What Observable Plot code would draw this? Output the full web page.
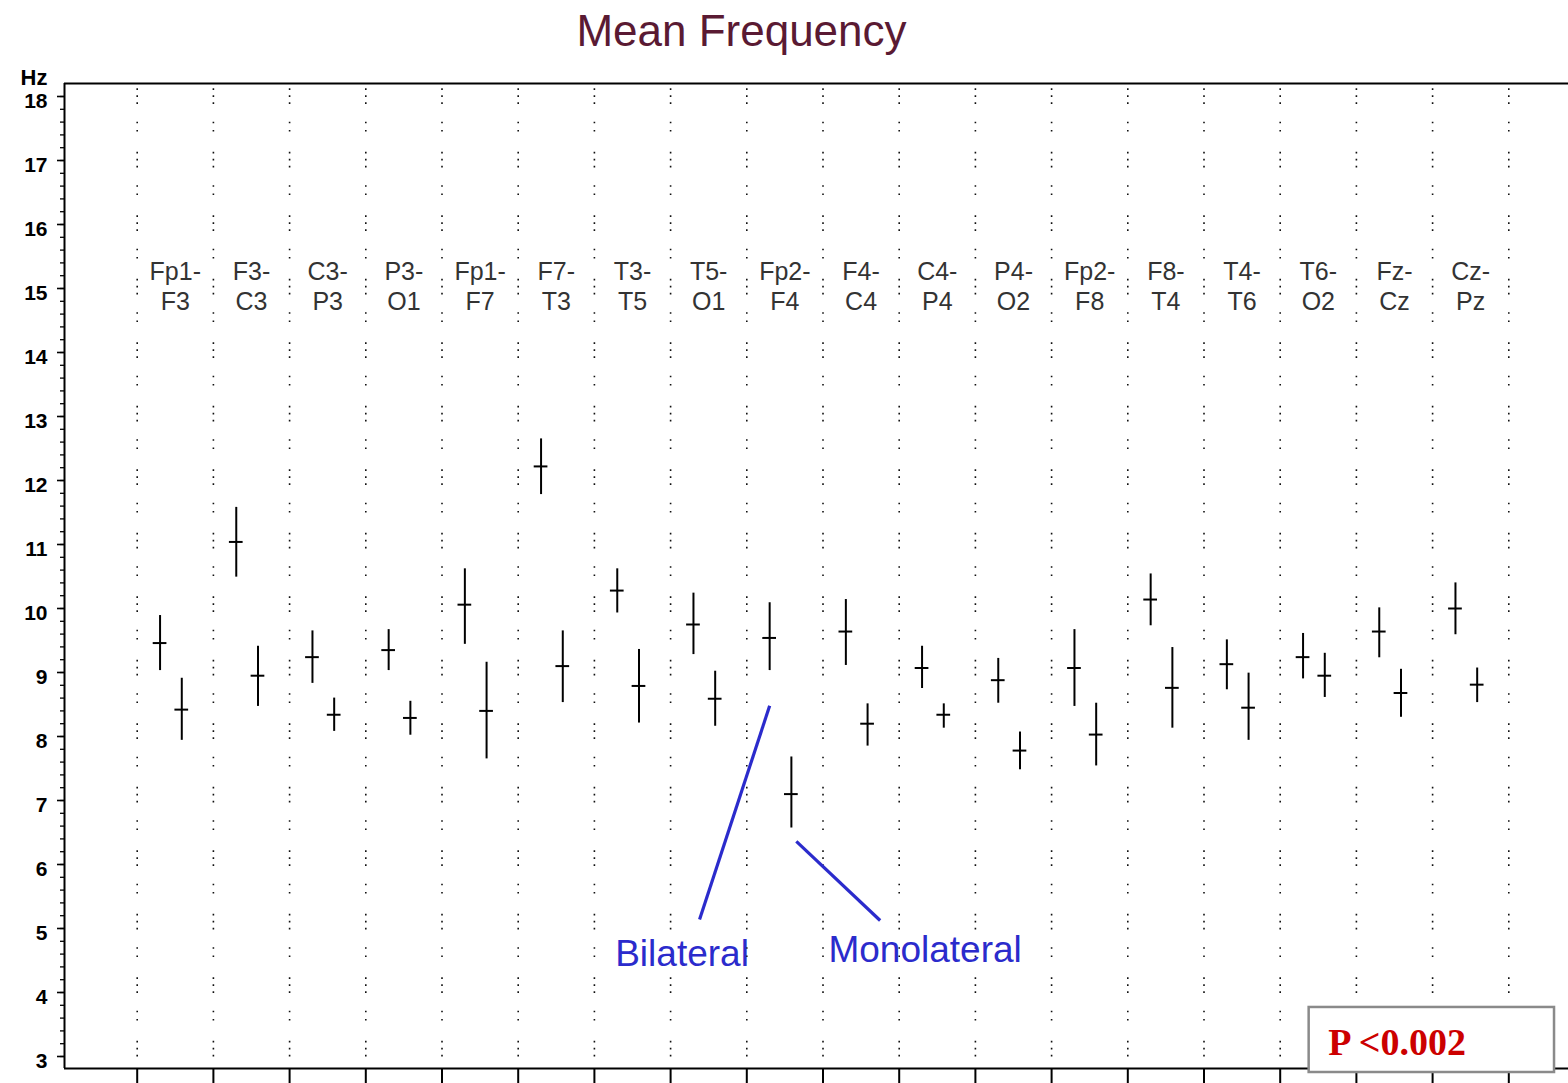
<!DOCTYPE html>
<html><head><meta charset="utf-8">
<script src="https://cdn.jsdelivr.net/npm/d3@7"></script>
<script src="https://cdn.jsdelivr.net/npm/@observablehq/plot@0.6"></script>
<style>body{margin:0;background:#fff} #chart svg{display:block}</style>
</head><body><div id="chart"></div>
<script>
const channels = ["Fp1-F3","F3-C3","C3-P3","P3-O1","Fp1-F7","F7-T3","T3-T5","T5-O1","Fp2-F4","F4-C4","C4-P4","P4-O2","Fp2-F8","F8-T4","T4-T6","T6-O2","Fz-Cz","Cz-Pz"];
const bilateralMean = [9.46, 11.04, 9.24, 9.35, 10.06, 12.22, 10.28, 9.75, 9.54, 9.64, 9.07, 8.88, 9.07, 10.14, 9.13, 9.24, 9.64, 10.00];
const bilateralLow  = [9.03, 10.49, 8.83, 9.03, 9.44, 11.78, 9.93, 9.28, 9.03, 9.11, 8.75, 8.52, 8.47, 9.73, 8.73, 8.90, 9.23, 9.59];
const bilateralHigh = [9.89, 11.58, 9.65, 9.67, 10.62, 12.65, 10.62, 10.24, 10.09, 10.14, 9.41, 9.22, 9.67, 10.54, 9.51, 9.61, 10.01, 10.40];
const monoMean = [8.42, 8.95, 8.34, 8.29, 8.40, 9.10, 8.79, 8.59, 7.10, 8.20, 8.34, 7.78, 8.03, 8.76, 8.45, 8.95, 8.68, 8.81];
const monoLow  = [7.94, 8.47, 8.08, 8.02, 7.65, 8.53, 8.21, 8.16, 6.57, 7.85, 8.13, 7.48, 7.54, 8.13, 7.94, 8.61, 8.30, 8.53];
const monoHigh = [8.91, 9.41, 8.60, 8.55, 9.16, 9.65, 9.36, 9.02, 7.68, 8.51, 8.51, 8.07, 8.52, 9.39, 8.99, 9.30, 9.05, 9.07];
const yTickValues = d3.range(3, 19);
const yMinorValues = d3.range(0, 76).map(k => 3 + k / 5);
const gridValues = d3.range(1, channels.length + 2);

const annotationLines = [
  {label: "Bilateral", x1: 9.30, y1: 8.48, x2: 8.38, y2: 5.14},
  {label: "Monolateral", x1: 9.65, y1: 6.36, x2: 10.75, y2: 5.125}
];
const annotationLabels = [
  {label: "Bilateral", x: 8.15, y: 4.41},
  {label: "Monolateral", x: 11.34, y: 4.47}
];
const pBox = [{x1: 16.38, x2: 19.60, y1: 2.75, y2: 3.766, tx: 16.63, ty: 3.03, text: "P <0.002"}];

const rows = channels.flatMap((c, i) => [
  {channel: c, i, group: "Bilateral", mean: bilateralMean[i], low: bilateralLow[i], high: bilateralHigh[i]},
  {channel: c, i, group: "Monolateral", mean: monoMean[i], low: monoLow[i], high: monoHigh[i]}
]);
const offset = {Bilateral: 0.30, Monolateral: 0.585};
const px = d => d.i + 1 + offset[d.group];
const frameTop = 18.203, frameBottom = 2.8125, frameLeft = 0.046;

const chart = Plot.plot({
  width: 1568, height: 1083,
  marginTop: 83, marginBottom: 15, marginLeft: 64, marginRight: 0,
  style: {fontFamily: "'Liberation Sans', Arial, sans-serif", background: "white", overflow: "visible"},
  x: {type: "linear", domain: [0, 20], range: [60.5, 1584.5], axis: null},
  y: {type: "linear", domain: [3, 18], range: [1056, 96], axis: null},
  marks: [
    Plot.ruleX(gridValues, {x: d => d, stroke: "#111", strokeWidth: 1.6,
      strokeDasharray: "1.6 5.4 1.6 5.4 1.6 17.8 1.6 6.7 1.6 20.2", strokeDashoffset: 58.2}),
    Plot.ruleY([frameTop], {y: d => d, stroke: "#000", strokeWidth: 2}),
    Plot.ruleY([frameBottom], {y: d => d, stroke: "#000", strokeWidth: 2}),
    Plot.ruleX([frameLeft], {x: d => d, y1: frameBottom, y2: frameTop, stroke: "#000", strokeWidth: 2}),
    Plot.axisX({ticks: gridValues, tickSize: 16, tickFormat: () => "", strokeWidth: 2, stroke: "#000", label: null, anchor: "bottom"}),
    Plot.axisY({ticks: yTickValues, tickSize: 7, tickFormat: () => "", strokeWidth: 1.6, stroke: "#000", label: null}),
    Plot.axisY({ticks: yMinorValues, tickSize: 4, tickFormat: () => "", strokeWidth: 1.3, stroke: "#000", label: null}),
    Plot.text(yTickValues, {x: frameLeft, y: d => d, text: d => String(d), dx: -17, dy: 5, textAnchor: "end",
      fontSize: 21, fontWeight: "bold", fill: "#000"}),
    Plot.text(["Hz"], {x: frameLeft, y: frameTop, text: d => d, dx: -17, dy: -6, textAnchor: "end",
      lineAnchor: "middle", fontSize: 22, fontWeight: "bold", fill: "#000"}),
    Plot.text(channels, {x: (d, i) => i + 1.5, y: 15.05, text: d => d.replace("-", "-\n"),
      fontSize: 25, lineHeight: 1.2, lineAnchor: "middle", fill: "#333"}),
    Plot.ruleX(rows, {x: px, y1: d => d.low, y2: d => d.high, stroke: "#000", strokeWidth: 2}),
    Plot.ruleY(rows, {y: d => d.mean, x1: d => px(d) - 0.09, x2: d => px(d) + 0.09, stroke: "#000", strokeWidth: 2}),
    Plot.link(annotationLines, {x1: "x1", y1: "y1", x2: "x2", y2: "y2", stroke: "#2b2bcc", strokeWidth: 3.2}),
    Plot.text(annotationLabels, {x: "x", y: "y", text: "label", lineAnchor: "bottom", fontSize: 37, fill: "#2b2bcc"}),
    Plot.rect(pBox, {x1: "x1", x2: "x2", y1: "y1", y2: "y2", fill: "white", stroke: "#8a8a8a", strokeWidth: 2.5}),
    Plot.text(pBox, {x: "tx", y: "ty", text: "text", textAnchor: "start", lineAnchor: "bottom",
      fontFamily: "'Liberation Serif', 'Times New Roman', serif", fontWeight: "bold", fontSize: 38, fill: "#cc0000"}),
    Plot.text(["Mean Frequency"], {x: 8.93, y: frameTop, text: d => d, dy: -38, lineAnchor: "bottom",
      fontSize: 44, fill: "#5a1a33"})
  ]
});
document.getElementById("chart").appendChild(chart);
</script>
</body></html>
